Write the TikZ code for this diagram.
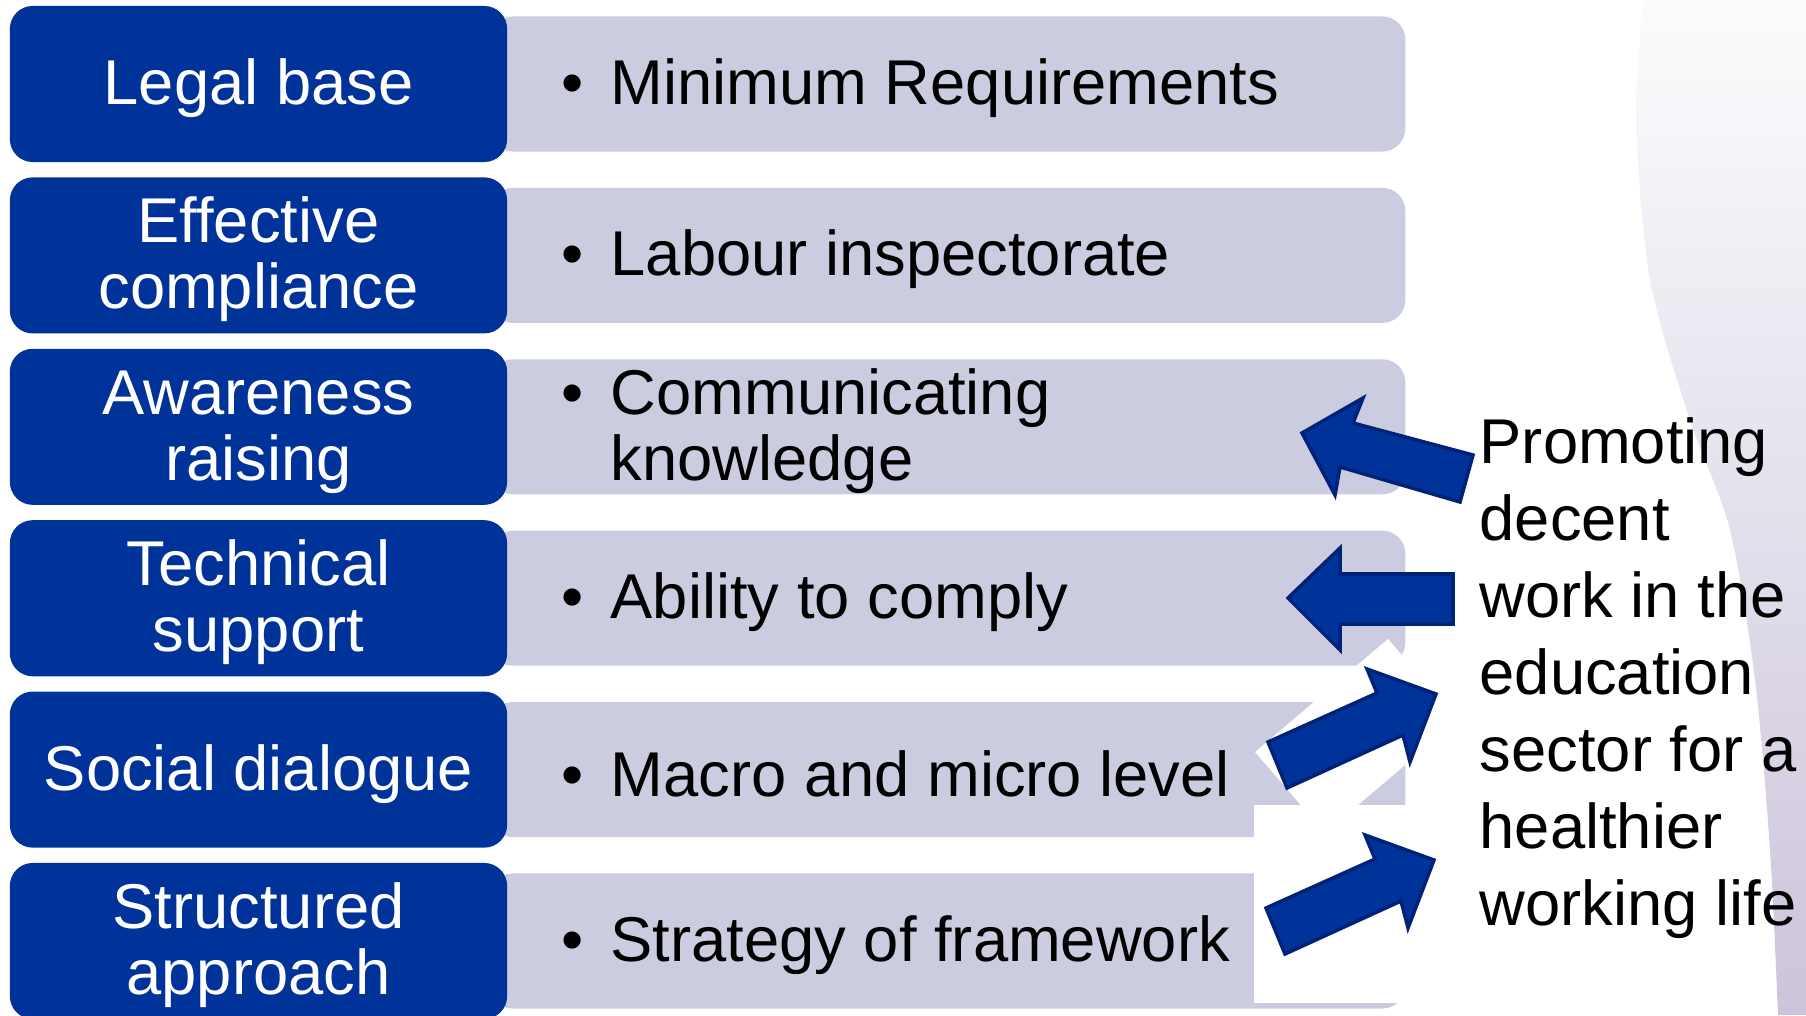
\documentclass[tikz,border=0pt]{standalone}
\usepackage{fontspec}
\setmainfont{Liberation Sans}
\definecolor{boxblue}{RGB}{0,51,153}
\definecolor{arrowline}{RGB}{0,34,119}
\definecolor{rowgray}{RGB}{203,204,224}
\definecolor{bgtop}{RGB}{252,252,253}
\definecolor{bgmid}{RGB}{240,239,245}
\definecolor{bgbot}{RGB}{204,196,219}

\begin{document}
\begin{tikzpicture}[x=0.01cm, y=-0.01cm,
	topic/.style={shape=rectangle, rounded corners=6.5pt, fill=boxblue, text=white, minimum width=4.97cm, minimum height=1.56cm, align=center, inner sep=0pt, font=\fontsize{18}{18.8}\selectfont},
	row/.style={shape=rectangle, rounded corners=6.5pt, fill=rowgray, minimum width=9.15cm, minimum height=1.35cm, inner sep=0pt},
	item/.style={anchor=west, align=left, inner sep=0pt, font=\fontsize{18}{18.8}\selectfont},
	blockarrow/.style={fill=boxblue, draw=arrowline, line width=1pt, line join=miter},
	patch/.style={fill=white}]
	\def\bul{\llap{\textbullet\hspace{0.27cm}}}
	\def\lift{\rule{0pt}{0.54cm}}
	\useasboundingbox (0,0) rectangle (1806,1015);
	\shade [top color=bgtop, middle color=bgmid, bottom color=bgbot] plot [smooth] coordinates {(1643,0) (1636,120) (1650,280) (1690,420) (1730,530) (1755,680) (1770,850) (1778,1015)} -- (1806,1015) -- (1806,0) -- cycle;
	\node [row] (r1) at (947.5,84) {};
	\node [row] (r2) at (947.5,255.4) {};
	\node [row] (r3) at (947.5,426.8) {};
	\node [row] (r4) at (947.5,598.2) {};
	\node [row] (r5) at (947.5,769.6) {};
	\node [row] (r6) at (947.5,941) {};
	\node [topic] (legal) at (258.5,84) {\lift Legal base};
	\node [topic] (compliance) at (258.5,255.4) {\lift Effective\\compliance};
	\node [topic] (awareness) at (258.5,426.8) {\lift Awareness\\raising};
	\node [topic] (technical) at (258.5,598.2) {\lift Technical\\support};
	\node [topic] (dialogue) at (258.5,769.6) {\lift Social dialogue};
	\node [topic] (structured) at (258.5,941) {\lift Structured\\approach};
	\node [item] (minreq) at (610,88) {\bul Minimum Requirements};
	\node [item] (inspect) at (610,259.4) {\bul Labour inspectorate};
	\node [item] (knowledge) at (610,430.8) {\bul Communicating\\knowledge};
	\node [item] (ability) at (610,602.2) {\bul Ability to comply};
	\node [item] (macro) at (610,773.6) {\bul Macro and micro level};
	\node [item] (strategy) at (610,945) {\bul Strategy of framework};
	% white backgrounds behind the two lower arrows
	\fill [patch] (1255,752) -- (1388,639) -- (1458,720) -- (1325,833) -- cycle;
	\fill [patch] (1254,805) rectangle (1410,1003);
	% block arrows
	\filldraw [blockarrow] (1302,433) -- (1363,398) -- (1353,423) -- (1473,455) -- (1460,502) -- (1340,467) -- (1335,495) -- cycle;
	\filldraw [blockarrow] (1288,598) -- (1340,548) -- (1340,574) -- (1453,574) -- (1453,624) -- (1340,624) -- (1340,650) -- cycle;
	\filldraw [blockarrow] (1436,694) -- (1410,762) -- (1403,735) -- (1287,788) -- (1268,742) -- (1377,693) -- (1367,669) -- cycle;
	\filldraw [blockarrow] (1434,860) -- (1408,928) -- (1401,901) -- (1285,954) -- (1266,908) -- (1375,859) -- (1365,835) -- cycle;
	\node [anchor=north west, align=left, inner sep=0pt, font=\fontsize{18}{21.9}\selectfont] (goal) at (1479,417) {Promoting\\decent\\work in the\\education\\sector for a\\healthier\\working life};
\end{tikzpicture}
\end{document}
